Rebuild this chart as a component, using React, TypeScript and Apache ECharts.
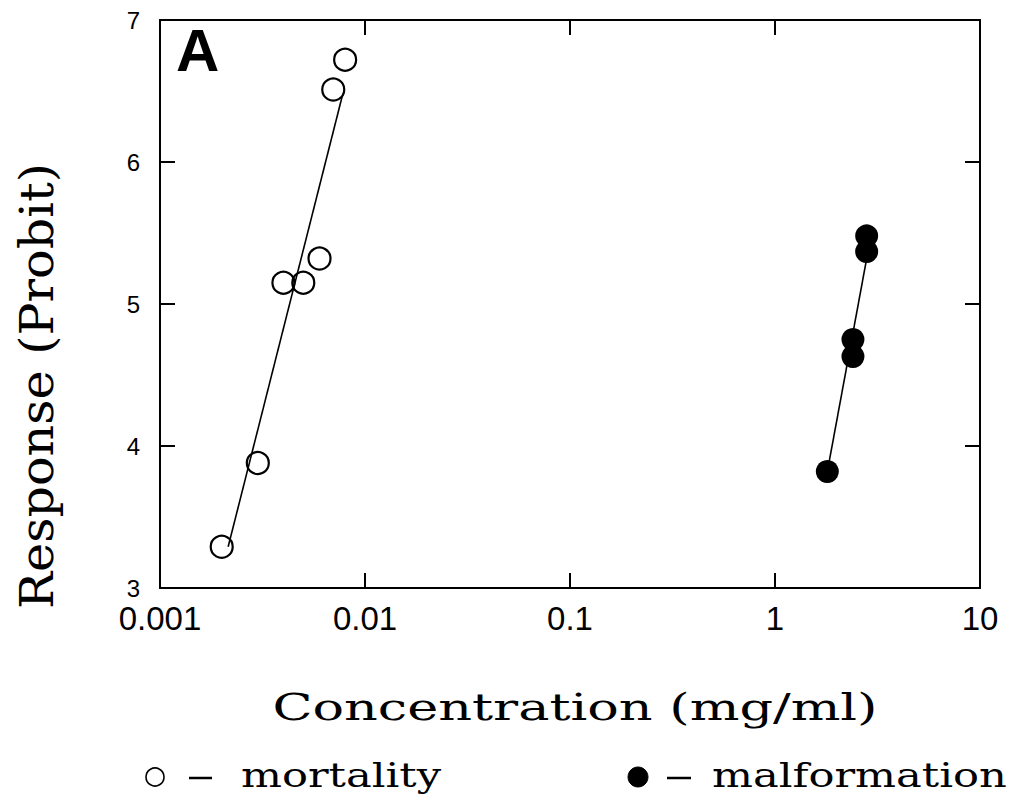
import React, { useEffect, useRef } from "react";
import * as echarts from "echarts";

// Mortality (open circles)
const mortalityConc = [0.002, 0.003, 0.004, 0.005, 0.006, 0.007, 0.008];
const mortalityProbit = [3.29, 3.88, 5.15, 5.15, 5.32, 6.51, 6.72];
const mortalityFitConc = [0.00215, 0.00773];
const mortalityFitProbit = [3.29, 6.46];

// Malformation (filled circles)
const malformConc = [1.8, 2.4, 2.4, 2.8, 2.8];
const malformProbit = [3.82, 4.63, 4.75, 5.37, 5.48];
const malformFitConc = [1.8, 2.8];
const malformFitProbit = [3.82, 5.32];

const xTickLabels = ["0.001", "0.01", "0.1", "1", "10"];
const yTickLabels = ["3", "4", "5", "6", "7"];

const xTitle = "Concentration (mg/ml)";
const yTitle = "Response (Probit)";
const panelLabel = "A";
const legendMortality = "mortality";
const legendMalform = "malformation";

const zip = (a: number[], b: number[]) => a.map((v, i) => [v, b[i]]);

export default function App() {
  const ref = useRef<HTMLDivElement>(null);
  useEffect(() => {
    if (!ref.current) return;
    const chart = echarts.init(ref.current, undefined, { renderer: "svg" });
    const serifFont = "'DejaVu Serif'";
    const sansFont = "'Liberation Sans'";
    const axisLine = { show: true, lineStyle: { color: "#000", width: 2 } };
    const tick = { show: true, inside: true, length: 15, lineStyle: { color: "#000", width: 2 } };
    const xLabelFmt = (v: number) => xTickLabels[Math.round(Math.log10(v) + 3)] ?? "";
    const yLabelFmt = (v: number) => yTickLabels[Math.round(v - 3)] ?? "";
    chart.setOption({
      animation: false,
      backgroundColor: "#fff",
      grid: { left: 160, right: 29, top: 20, bottom: 217 },
      xAxis: [
        {
          type: "log",
          logBase: 10,
          min: 0.001,
          max: 10,
          axisLine,
          axisTick: tick,
          minorTick: { show: false },
          splitLine: { show: false },
          axisLabel: {
            formatter: xLabelFmt,
            fontFamily: "Liberation Sans",
            fontSize: 33,
            color: "#000",
            margin: 14,
          },
        },
        {
          type: "log",
          logBase: 10,
          min: 0.001,
          max: 10,
          position: "top",
          axisLine,
          axisTick: tick,
          splitLine: { show: false },
          axisLabel: { show: false },
        },
      ],
      yAxis: [
        {
          type: "value",
          min: 3,
          max: 7,
          interval: 1,
          axisLine,
          axisTick: tick,
          splitLine: { show: false },
          axisLabel: {
            formatter: yLabelFmt,
            fontFamily: "Liberation Sans",
            fontSize: 24,
            color: "#000",
            margin: 20,
          },
        },
        {
          type: "value",
          min: 3,
          max: 7,
          interval: 1,
          position: "right",
          axisLine,
          axisTick: tick,
          splitLine: { show: false },
          axisLabel: { show: false },
        },
      ],
      series: [
        {
          name: "mortality fit",
          type: "line",
          data: zip(mortalityFitConc, mortalityFitProbit),
          showSymbol: false,
          lineStyle: { color: "#000", width: 1.6 },
          z: 1,
        },
        {
          name: "malformation fit",
          type: "line",
          data: zip(malformFitConc, malformFitProbit),
          showSymbol: false,
          lineStyle: { color: "#000", width: 1.6 },
          z: 1,
        },
        {
          name: "mortality",
          type: "scatter",
          data: zip(mortalityConc, mortalityProbit),
          symbol: "circle",
          symbolSize: 22,
          itemStyle: { color: "rgba(0,0,0,0)", borderColor: "#000", borderWidth: 2.2, opacity: 1 },
          z: 3,
        },
        {
          name: "malformation",
          type: "scatter",
          data: zip(malformConc, malformProbit),
          symbol: "circle",
          symbolSize: 23,
          itemStyle: { color: "#000", opacity: 1 },
          z: 3,
        },
      ],
      graphic: [
        {
          type: "text",
          x: 176,
          y: 50,
          style: {
            text: panelLabel,
            font: `bold 60px ${sansFont}`,
            fill: "#000",
            textAlign: "left",
            textVerticalAlign: "middle",
          },
        },
        {
          type: "text",
          x: 575,
          y: 707,
          scaleX: 1.38,
          style: {
            text: xTitle,
            font: `38px ${serifFont}`,
            fill: "#000",
            textAlign: "center",
            textVerticalAlign: "middle",
          },
        },
        {
          type: "text",
          x: 37,
          y: 386,
          rotation: Math.PI / 2,
          scaleX: 1.07,
          style: {
            text: yTitle,
            font: `46px ${serifFont}`,
            fill: "#000",
            textAlign: "center",
            textVerticalAlign: "middle",
          },
        },
        {
          type: "circle",
          shape: { cx: 155, cy: 777, r: 9 },
          style: { fill: "none", stroke: "#000", lineWidth: 1.6 },
        },
        {
          type: "line",
          shape: { x1: 189, y1: 778, x2: 212, y2: 778 },
          style: { stroke: "#000", lineWidth: 2.5 },
        },
        {
          type: "text",
          x: 241,
          y: 775,
          scaleX: 1.27,
          style: {
            text: legendMortality,
            font: `34px ${serifFont}`,
            fill: "#000",
            textAlign: "left",
            textVerticalAlign: "middle",
          },
        },
        {
          type: "circle",
          shape: { cx: 638, cy: 777, r: 10 },
          style: { fill: "#000", stroke: "#000", lineWidth: 1 },
        },
        {
          type: "line",
          shape: { x1: 667, y1: 778, x2: 691, y2: 778 },
          style: { stroke: "#000", lineWidth: 2.5 },
        },
        {
          type: "text",
          x: 712,
          y: 775,
          scaleX: 1.27,
          style: {
            text: legendMalform,
            font: `34px ${serifFont}`,
            fill: "#000",
            textAlign: "left",
            textVerticalAlign: "middle",
          },
        },
      ],
    });
    return () => chart.dispose();
  }, []);
  return (
    <div
      ref={ref}
      style={{ position: "absolute", left: 0, top: 0, width: 1009, height: 805 }}
    />
  );
}
